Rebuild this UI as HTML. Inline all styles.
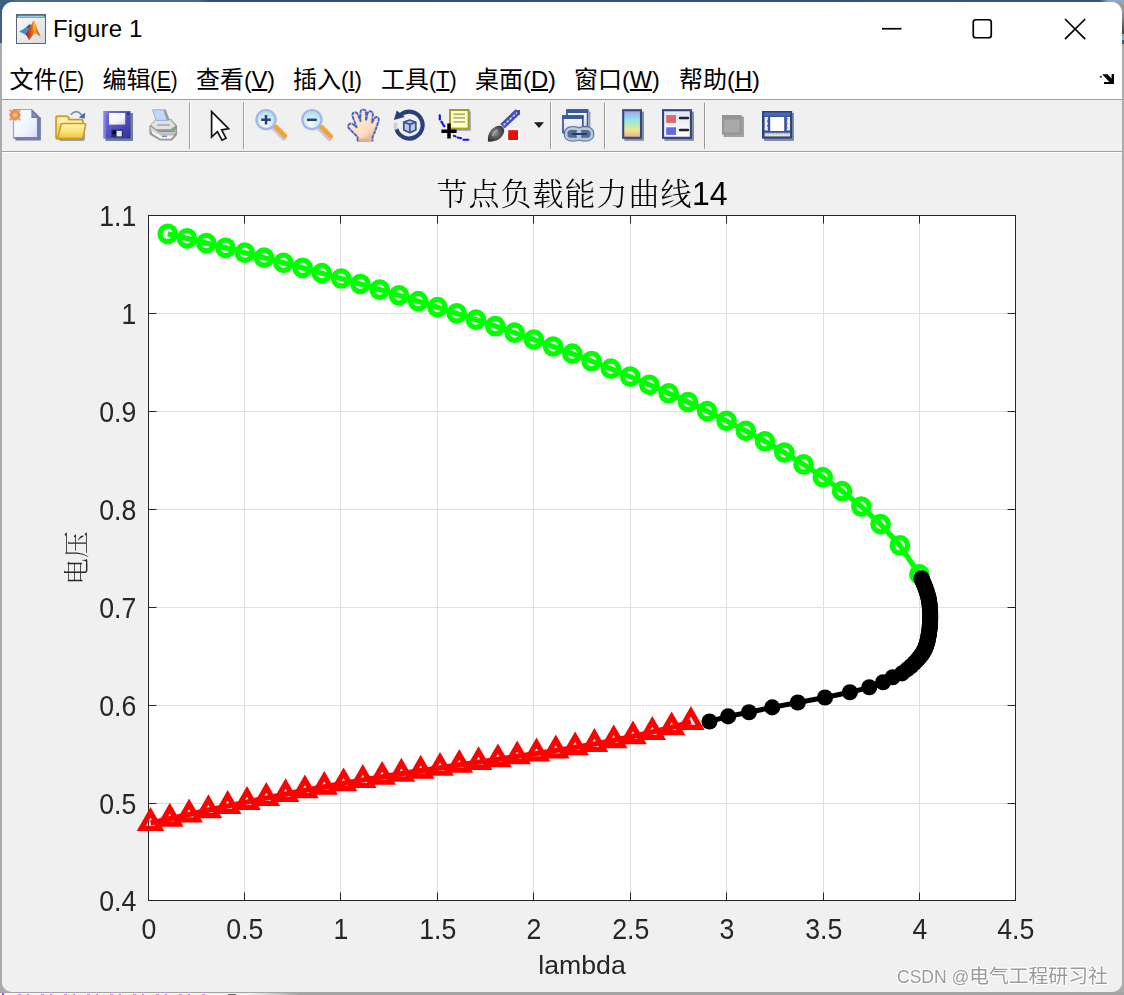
<!DOCTYPE html>
<html lang="zh-CN">
<head>
<meta charset="utf-8">
<title>Figure 1</title>
<style>
html,body{margin:0;padding:0;}
body{width:1124px;height:995px;overflow:hidden;position:relative;background:#ababab;font-family:"Liberation Sans","Noto Sans CJK SC",sans-serif;}
.bg{position:absolute;}
#win{position:absolute;left:2px;top:2px;width:1120px;height:990px;background:#f0f0f0;border-radius:11px 11px 10px 10px;overflow:hidden;}
#titlebar{position:absolute;left:0;top:0;width:1120px;height:56px;background:#fff;}
#title{position:absolute;left:51px;top:11px;font-size:24px;line-height:32px;color:#000;letter-spacing:0.2px;}
#menubar{position:absolute;left:0;top:56px;width:1120px;height:41px;background:#fff;border-bottom:1px solid #a0a0a0;}
.mi{position:absolute;top:3.5px;font-size:24px;line-height:36px;color:#000;white-space:nowrap;}
.mi .l{display:inline-block;font-style:normal;transform:scaleX(0.86);transform-origin:0 50%;}
.mi u{text-decoration:underline;text-underline-offset:1.2px;text-decoration-thickness:1.5px;}
#toolbar{position:absolute;left:0;top:98px;width:1120px;height:51px;background:#f0f0f0;border-bottom:1px solid #a0a0a0;}
.sep{position:absolute;top:3px;width:1px;height:46px;background:#a0a0a0;border-right:1px solid #fff;}
.ic{position:absolute;top:9px;width:32px;height:32px;}
#fig{position:absolute;left:0;top:150px;width:1120px;height:840px;background:#f0f0f0;border-top:1px solid #fff;}
.plot{position:absolute;left:0;top:0;will-change:transform;}
#wm{will-change:transform;position:absolute;left:897px;top:963px;font-size:19.8px;line-height:26px;color:#9a9a9a;white-space:nowrap;text-shadow:1px 1px 0 #fff,-1px -1px 0 #fff,1px -1px 0 #fff,-1px 1px 0 #fff;}
</style>
</head>
<body>
<div class="bg" style="left:0;top:0;width:1124px;height:3px;background:linear-gradient(90deg,#4b6b92 0,#46668e 200px,#2f4f7a 210px,#34547e 1100px,#8aa8cc 1108px);"></div>
<div class="bg" style="left:0;top:0;width:14px;height:43px;background:#3d5f87;"></div>
<div class="bg" style="left:1110px;top:0;width:14px;height:3px;background:#8aa8cc;"></div>
<div class="bg" style="left:1112px;top:2px;width:12px;height:32px;background:linear-gradient(180deg,#a0a0a0,#8c8c8c 40%,#3e3e3e);"></div>
<div class="bg" style="left:1112px;top:34px;width:12px;height:6px;background:#86a2c6;"></div>
<div class="bg" style="left:1112px;top:40px;width:12px;height:4px;background:#2f5a8c;"></div>
<div class="bg" style="left:0;top:992px;width:1124px;height:3px;background:#a4a4a4;"></div>
<div class="bg" style="left:0;top:993px;width:300px;height:2px;background:linear-gradient(90deg,#f6f6f6 0,#f2f2f2 250px,#a4a4a4 300px);"></div>
<div class="bg" style="left:2px;top:993px;width:2px;height:2px;background:#a050d8;"></div>
<div class="bg" style="left:18px;top:994px;width:190px;height:1px;background:repeating-linear-gradient(90deg,#c49ae6 0,#c49ae6 3px,rgba(0,0,0,0) 3px,rgba(0,0,0,0) 9px,#b98ae0 9px,#b98ae0 11px,rgba(0,0,0,0) 11px,rgba(0,0,0,0) 23px);"></div>
<div class="bg" style="left:228px;top:994px;width:8px;height:1px;background:#666;"></div>

<div id="win">
  <div id="titlebar">
    <!--APPICON-->
    <div id="title">Figure 1</div>
    <!--CAPTION-->
  </div>
  <div id="menubar">
    <span class="mi" style="left:7.5px">文件<i class="l" style="transform:scaleX(0.85)">(<u>F</u>)</i></span>
    <span class="mi" style="left:100.4px">编辑<i class="l" style="transform:scaleX(0.86)">(<u>E</u>)</i></span>
    <span class="mi" style="left:194px">查看<i class="l" style="transform:scaleX(0.97)">(<u>V</u>)</i></span>
    <span class="mi" style="left:291px">插入<i class="l" style="transform:scaleX(0.925)">(<u>I</u>)</i></span>
    <span class="mi" style="left:379px">工具<i class="l" style="transform:scaleX(0.9)">(<u>T</u>)</i></span>
    <span class="mi" style="left:473px">桌面<i class="l" style="transform:scaleX(0.99)">(<u>D</u>)</i></span>
    <span class="mi" style="left:572px">窗口<i class="l" style="transform:scaleX(0.98)">(<u>W</u>)</i></span>
    <span class="mi" style="left:677px">帮助<i class="l" style="transform:scaleX(0.99)">(<u>H</u>)</i></span>
    <!--DOCK-->
  </div>
  <div id="toolbar">
    <!--ICONS-->
  </div>
  <div id="fig"></div>
</div>
<svg class="plot" width="1124" height="995" viewBox="0 0 1124 995">
<rect x="148.5" y="215.5" width="867.0" height="685.0" fill="#fff"/>
<path d="M244.5 215.5V900.5M340.5 215.5V900.5M437.5 215.5V900.5M533.5 215.5V900.5M630.5 215.5V900.5M726.5 215.5V900.5M823.5 215.5V900.5M919.5 215.5V900.5M148.5 803.5H1015.5M148.5 705.5H1015.5M148.5 607.5H1015.5M148.5 509.5H1015.5M148.5 411.5H1015.5M148.5 313.5H1015.5" stroke="#dfdfdf" stroke-width="1" fill="none"/>
<path d="M148.5 900.5v-8M148.5 215.5v8M244.5 900.5v-8M244.5 215.5v8M340.5 900.5v-8M340.5 215.5v8M437.5 900.5v-8M437.5 215.5v8M533.5 900.5v-8M533.5 215.5v8M630.5 900.5v-8M630.5 215.5v8M726.5 900.5v-8M726.5 215.5v8M823.5 900.5v-8M823.5 215.5v8M919.5 900.5v-8M919.5 215.5v8M1015.5 900.5v-8M1015.5 215.5v8M148.5 900.5h8M1015.5 900.5h-8M148.5 803.5h8M1015.5 803.5h-8M148.5 705.5h8M1015.5 705.5h-8M148.5 607.5h8M1015.5 607.5h-8M148.5 509.5h8M1015.5 509.5h-8M148.5 411.5h8M1015.5 411.5h-8M148.5 313.5h8M1015.5 313.5h-8M148.5 215.5h8M1015.5 215.5h-8" stroke="#262626" stroke-width="1" fill="none"/>
<rect x="148.5" y="215.5" width="867.0" height="685.0" fill="none" stroke="#262626" stroke-width="1"/>
<polyline points="167.8,233.9 187,238.4 206.3,243.1 225.6,247.9 244.8,252.7 264.1,257.7 283.4,262.8 302.6,267.9 321.9,273.2 341.2,278.5 360.4,284 379.7,289.6 399,295.4 418.2,301.2 437.5,307.2 456.8,313.4 476,319.7 495.3,326.1 514.6,332.7 533.8,339.5 553.1,346.5 572.4,353.7 591.6,361.1 610.9,368.7 630.2,376.6 649.4,384.8 668.7,393.3 688,402 707.2,411.2 726.5,420.8 745.8,430.8 765,441.3 784.3,452.5 803.6,464.4 822.8,477.2 842.1,491.2 861.4,506.6 880.6,524.2 899.9,545.4 919.4,574.4" fill="none" stroke="#00ff00" stroke-width="5.3" stroke-linejoin="round"/>
<g fill="none" stroke="#00ff00" stroke-width="5.3"><circle cx="167.8" cy="233.9" r="7.7"/><circle cx="187" cy="238.4" r="7.7"/><circle cx="206.3" cy="243.1" r="7.7"/><circle cx="225.6" cy="247.9" r="7.7"/><circle cx="244.8" cy="252.7" r="7.7"/><circle cx="264.1" cy="257.7" r="7.7"/><circle cx="283.4" cy="262.8" r="7.7"/><circle cx="302.6" cy="267.9" r="7.7"/><circle cx="321.9" cy="273.2" r="7.7"/><circle cx="341.2" cy="278.5" r="7.7"/><circle cx="360.4" cy="284" r="7.7"/><circle cx="379.7" cy="289.6" r="7.7"/><circle cx="399" cy="295.4" r="7.7"/><circle cx="418.2" cy="301.2" r="7.7"/><circle cx="437.5" cy="307.2" r="7.7"/><circle cx="456.8" cy="313.4" r="7.7"/><circle cx="476" cy="319.7" r="7.7"/><circle cx="495.3" cy="326.1" r="7.7"/><circle cx="514.6" cy="332.7" r="7.7"/><circle cx="533.8" cy="339.5" r="7.7"/><circle cx="553.1" cy="346.5" r="7.7"/><circle cx="572.4" cy="353.7" r="7.7"/><circle cx="591.6" cy="361.1" r="7.7"/><circle cx="610.9" cy="368.7" r="7.7"/><circle cx="630.2" cy="376.6" r="7.7"/><circle cx="649.4" cy="384.8" r="7.7"/><circle cx="668.7" cy="393.3" r="7.7"/><circle cx="688" cy="402" r="7.7"/><circle cx="707.2" cy="411.2" r="7.7"/><circle cx="726.5" cy="420.8" r="7.7"/><circle cx="745.8" cy="430.8" r="7.7"/><circle cx="765" cy="441.3" r="7.7"/><circle cx="784.3" cy="452.5" r="7.7"/><circle cx="803.6" cy="464.4" r="7.7"/><circle cx="822.8" cy="477.2" r="7.7"/><circle cx="842.1" cy="491.2" r="7.7"/><circle cx="861.4" cy="506.6" r="7.7"/><circle cx="880.6" cy="524.2" r="7.7"/><circle cx="899.9" cy="545.4" r="7.7"/><circle cx="919.4" cy="574.4" r="7.7"/></g>
<polyline points="150.5,823 169.8,818.7 189.1,814.5 208.4,810.2 227.7,806 247,802 266.3,798 285.6,794.1 304.9,790.4 324.2,786.8 343.5,783.3 362.8,780 382.1,776.8 401.4,773.7 420.7,770.7 440,767.8 459.3,764.9 478.6,762.1 497.9,759.3 517.2,756.4 536.5,753.5 555.8,750.5 575.1,747.3 594.4,744 613.7,740.3 633,736.4 652.3,732 671.6,727.3 690.9,722" fill="none" stroke="#ff0000" stroke-width="5.3" stroke-linejoin="round"/>
<path d="M150.5 812.4L159.7 828.3L141.3 828.3ZM169.8 808.1L179 824L160.6 824ZM189.1 803.9L198.3 819.8L179.9 819.8ZM208.4 799.6L217.6 815.5L199.2 815.5ZM227.7 795.4L236.9 811.3L218.5 811.3ZM247 791.4L256.2 807.3L237.8 807.3ZM266.3 787.4L275.5 803.3L257.1 803.3ZM285.6 783.5L294.8 799.4L276.4 799.4ZM304.9 779.8L314.1 795.7L295.7 795.7ZM324.2 776.2L333.4 792.1L315 792.1ZM343.5 772.7L352.7 788.6L334.3 788.6ZM362.8 769.4L372 785.3L353.6 785.3ZM382.1 766.2L391.3 782.1L372.9 782.1ZM401.4 763.1L410.6 779L392.2 779ZM420.7 760.1L429.9 776L411.5 776ZM440 757.2L449.2 773.1L430.8 773.1ZM459.3 754.3L468.5 770.2L450.1 770.2ZM478.6 751.5L487.8 767.4L469.4 767.4ZM497.9 748.7L507.1 764.6L488.7 764.6ZM517.2 745.8L526.4 761.7L508 761.7ZM536.5 742.9L545.7 758.8L527.3 758.8ZM555.8 739.9L565 755.8L546.6 755.8ZM575.1 736.7L584.3 752.6L565.9 752.6ZM594.4 733.4L603.6 749.3L585.2 749.3ZM613.7 729.7L622.9 745.6L604.5 745.6ZM633 725.8L642.2 741.7L623.8 741.7ZM652.3 721.4L661.5 737.3L643.1 737.3ZM671.6 716.7L680.8 732.6L662.4 732.6ZM690.9 711.4L700.1 727.3L681.7 727.3Z" fill="none" stroke="#ff0000" stroke-width="5.3" stroke-linejoin="miter" stroke-miterlimit="10"/>
<polyline points="921.5,578.3 921.8,579.1 922.4,580.5 923.1,582 923.7,583.4 924.2,584.8 924.8,586.3 925.3,587.6 925.8,589.1 926.4,590.6 926.9,592.1 927.3,593.6 927.8,595.1 928.2,596.6 928.5,598 928.8,599.4 929,600.8 929.3,602.4 929.5,603.9 929.6,605.5 929.8,607.1 929.9,608.7 930,610.3 930.1,611.9 930.2,613.5 930.2,615.1 930.2,616.5 930.2,618 930.2,619.4 930.1,620.9 930.1,622.4 930,623.9 929.9,625.4 929.7,626.8 929.6,628.4 929.4,629.9 929.2,631.4 929,632.9 928.8,634.4 928.5,635.8 928.3,637.3 928,638.9 927.7,640.4 927.3,641.8 927,643.2 926.5,644.6 926.1,646 925.6,647.3 925,648.6 924.4,649.9 923.7,651.2 923,652.5 922.1,653.8 921.2,655.1 920.1,656.5 918.7,658.2 916.8,660.4 914.5,662.9 911.3,666 907.2,669.4 902,673.4 892.7,677.3 883.1,682.3 869.3,687.3 849.9,692.3 825,697.5 797.8,702.5 772.2,707.4 749,712.2 728.1,716.4 709.5,721.5" fill="none" stroke="#000" stroke-width="5" stroke-linejoin="round" stroke-linecap="round"/>
<g fill="#000"><circle cx="921.5" cy="578.3" r="8.05"/><circle cx="921.8" cy="579.1" r="8.05"/><circle cx="922.4" cy="580.5" r="8.05"/><circle cx="923.1" cy="582" r="8.05"/><circle cx="923.7" cy="583.4" r="8.05"/><circle cx="924.2" cy="584.8" r="8.05"/><circle cx="924.8" cy="586.3" r="8.05"/><circle cx="925.3" cy="587.6" r="8.05"/><circle cx="925.8" cy="589.1" r="8.05"/><circle cx="926.4" cy="590.6" r="8.05"/><circle cx="926.9" cy="592.1" r="8.05"/><circle cx="927.3" cy="593.6" r="8.05"/><circle cx="927.8" cy="595.1" r="8.05"/><circle cx="928.2" cy="596.6" r="8.05"/><circle cx="928.5" cy="598" r="8.05"/><circle cx="928.8" cy="599.4" r="8.05"/><circle cx="929" cy="600.8" r="8.05"/><circle cx="929.3" cy="602.4" r="8.05"/><circle cx="929.5" cy="603.9" r="8.05"/><circle cx="929.6" cy="605.5" r="8.05"/><circle cx="929.8" cy="607.1" r="8.05"/><circle cx="929.9" cy="608.7" r="8.05"/><circle cx="930" cy="610.3" r="8.05"/><circle cx="930.1" cy="611.9" r="8.05"/><circle cx="930.2" cy="613.5" r="8.05"/><circle cx="930.2" cy="615.1" r="8.05"/><circle cx="930.2" cy="616.5" r="8.05"/><circle cx="930.2" cy="618" r="8.05"/><circle cx="930.2" cy="619.4" r="8.05"/><circle cx="930.1" cy="620.9" r="8.05"/><circle cx="930.1" cy="622.4" r="8.05"/><circle cx="930" cy="623.9" r="8.05"/><circle cx="929.9" cy="625.4" r="8.05"/><circle cx="929.7" cy="626.8" r="8.05"/><circle cx="929.6" cy="628.4" r="8.05"/><circle cx="929.4" cy="629.9" r="8.05"/><circle cx="929.2" cy="631.4" r="8.05"/><circle cx="929" cy="632.9" r="8.05"/><circle cx="928.8" cy="634.4" r="8.05"/><circle cx="928.5" cy="635.8" r="8.05"/><circle cx="928.3" cy="637.3" r="8.05"/><circle cx="928" cy="638.9" r="8.05"/><circle cx="927.7" cy="640.4" r="8.05"/><circle cx="927.3" cy="641.8" r="8.05"/><circle cx="927" cy="643.2" r="8.05"/><circle cx="926.5" cy="644.6" r="8.05"/><circle cx="926.1" cy="646" r="8.05"/><circle cx="925.6" cy="647.3" r="8.05"/><circle cx="925" cy="648.6" r="8.05"/><circle cx="924.4" cy="649.9" r="8.05"/><circle cx="923.7" cy="651.2" r="8.05"/><circle cx="923" cy="652.5" r="8.05"/><circle cx="922.1" cy="653.8" r="8.05"/><circle cx="921.2" cy="655.1" r="8.05"/><circle cx="920.1" cy="656.5" r="8.05"/><circle cx="918.7" cy="658.2" r="8.05"/><circle cx="916.8" cy="660.4" r="8.05"/><circle cx="914.5" cy="662.9" r="8.05"/><circle cx="911.3" cy="666" r="8.05"/><circle cx="907.2" cy="669.4" r="8.05"/><circle cx="902" cy="673.4" r="8.05"/><circle cx="892.7" cy="677.3" r="8.05"/><circle cx="883.1" cy="682.3" r="8.05"/><circle cx="869.3" cy="687.3" r="8.05"/><circle cx="849.9" cy="692.3" r="8.05"/><circle cx="825" cy="697.5" r="8.05"/><circle cx="797.8" cy="702.5" r="8.05"/><circle cx="772.2" cy="707.4" r="8.05"/><circle cx="749" cy="712.2" r="8.05"/><circle cx="728.1" cy="716.4" r="8.05"/><circle cx="709.5" cy="721.5" r="8.05"/></g>
<g font-family="'Liberation Sans', Arial, sans-serif" font-size="26.67" fill="#262626">
<text transform="translate(148.8 938.9) scale(1 1.08)" text-anchor="middle">0</text>
<text transform="translate(244.8 938.9) scale(1 1.08)" text-anchor="middle">0.5</text>
<text transform="translate(340.8 938.9) scale(1 1.08)" text-anchor="middle">1</text>
<text transform="translate(437.8 938.9) scale(1 1.08)" text-anchor="middle">1.5</text>
<text transform="translate(533.8 938.9) scale(1 1.08)" text-anchor="middle">2</text>
<text transform="translate(630.8 938.9) scale(1 1.08)" text-anchor="middle">2.5</text>
<text transform="translate(726.8 938.9) scale(1 1.08)" text-anchor="middle">3</text>
<text transform="translate(823.8 938.9) scale(1 1.08)" text-anchor="middle">3.5</text>
<text transform="translate(919.8 938.9) scale(1 1.08)" text-anchor="middle">4</text>
<text transform="translate(1015.8 938.9) scale(1 1.08)" text-anchor="middle">4.5</text>
<text transform="translate(136.3 911.2) scale(1 1.08)" text-anchor="end">0.4</text>
<text transform="translate(136.3 814.2) scale(1 1.08)" text-anchor="end">0.5</text>
<text transform="translate(136.3 716.2) scale(1 1.08)" text-anchor="end">0.6</text>
<text transform="translate(136.3 618.2) scale(1 1.08)" text-anchor="end">0.7</text>
<text transform="translate(136.3 520.2) scale(1 1.08)" text-anchor="end">0.8</text>
<text transform="translate(136.3 422.2) scale(1 1.08)" text-anchor="end">0.9</text>
<text transform="translate(136.3 324.2) scale(1 1.08)" text-anchor="end">1</text>
<text transform="translate(136.3 226.2) scale(1 1.08)" text-anchor="end">1.1</text>
<text x="582" y="974.1" text-anchor="middle">lambda</text>
</g>
<text transform="translate(85.5 558) rotate(-90)" text-anchor="middle" font-family="'Liberation Serif', 'Noto Serif CJK SC', serif" font-weight="300" font-size="26.67" fill="#262626">电压</text>
<text x="436.4" y="205.4" font-size="31" fill="#000" font-family="'Liberation Serif', 'Noto Serif CJK SC', serif" font-weight="300" letter-spacing="1">节点负载能力曲线</text>
<text transform="translate(692 205.4) scale(1 1.06)" font-size="32" fill="#000" font-family="'Liberation Sans', sans-serif">14</text>
</svg>
<svg class="plot" width="1124" height="160" viewBox="0 0 1124 160">
<defs>
<linearGradient id="gPage" x1="0" y1="0" x2="1" y2="1"><stop offset="0" stop-color="#ffffff"/><stop offset="0.6" stop-color="#eef4ff"/><stop offset="1" stop-color="#cfe0fb"/></linearGradient>
<linearGradient id="gFold" x1="0" y1="0" x2="0" y2="1"><stop offset="0" stop-color="#fff6b0"/><stop offset="0.5" stop-color="#fbe37a"/><stop offset="1" stop-color="#f0c040"/></linearGradient>
<linearGradient id="gSave" x1="0" y1="0" x2="1" y2="1"><stop offset="0" stop-color="#7a78e8"/><stop offset="0.5" stop-color="#5552c4"/><stop offset="1" stop-color="#2f2f98"/></linearGradient>
<linearGradient id="gLabel" x1="0" y1="0" x2="1" y2="1"><stop offset="0" stop-color="#ffffff"/><stop offset="0.6" stop-color="#f4f6fb"/><stop offset="1" stop-color="#c8d2ea"/></linearGradient>
<radialGradient id="gLens" cx="0.45" cy="0.7" r="0.7"><stop offset="0" stop-color="#ffffff"/><stop offset="0.55" stop-color="#c4ecf2"/><stop offset="1" stop-color="#a8dcea"/></radialGradient>
<linearGradient id="gHand" x1="0.3" y1="0.3" x2="0.8" y2="1"><stop offset="0" stop-color="#fee6cf"/><stop offset="0.6" stop-color="#fbdcc0"/><stop offset="1" stop-color="#dca878"/></linearGradient>
<linearGradient id="gCbar" x1="0" y1="0" x2="0" y2="1"><stop offset="0" stop-color="#a59cee"/><stop offset="0.35" stop-color="#8fe6ea"/><stop offset="0.7" stop-color="#e6ea90"/><stop offset="1" stop-color="#f4a98c"/></linearGradient>
<linearGradient id="gLeg" x1="0" y1="0" x2="0" y2="1"><stop offset="0" stop-color="#dfe5f4"/><stop offset="1" stop-color="#ffffff"/></linearGradient>
<linearGradient id="gWinT" x1="0" y1="0" x2="0" y2="1"><stop offset="0" stop-color="#ffffff"/><stop offset="1" stop-color="#d4dcf0"/></linearGradient>
<radialGradient id="gBrush" cx="0.45" cy="0.45" r="0.6"><stop offset="0" stop-color="#9a9a9a"/><stop offset="0.5" stop-color="#5a5a5a"/><stop offset="1" stop-color="#2e2e2e"/></radialGradient>
<linearGradient id="gPrn" x1="0" y1="0" x2="0" y2="1"><stop offset="0" stop-color="#e4e4e4"/><stop offset="1" stop-color="#b4b4b0"/></linearGradient>
<linearGradient id="gApp" x1="0" y1="0" x2="1" y2="1"><stop offset="0" stop-color="#fbfbfb"/><stop offset="1" stop-color="#d9dadc"/></linearGradient>
<linearGradient id="gMl" x1="0" y1="0" x2="1" y2="0"><stop offset="0" stop-color="#8a1c10"/><stop offset="0.45" stop-color="#e8641a"/><stop offset="0.6" stop-color="#f8a81c"/><stop offset="1" stop-color="#c23a12"/></linearGradient>
</defs>

<!-- ===== app icon ===== -->
<g>
<rect x="16.5" y="14.5" width="29" height="29" fill="url(#gApp)" stroke="#5b6577" stroke-width="1"/>
<rect x="17" y="15" width="28" height="2.6" fill="#3d5a86"/>
<rect x="17.6" y="15.6" width="26.8" height="1.6" fill="#9ccbee"/>
<path d="M19.2 31.6 L26 27.6 L29.6 24.2 L32 26 L27.8 31.2 L25.2 34.6 Z" fill="#3f8fd0"/>
<path d="M26 27.6 L29.6 24.2 L31 25.2 L28.5 28.6 Z" fill="#2f5f98"/>
<path d="M25.2 34.6 C28 30.5 30.5 26.5 32.6 22 C33.4 20.4 34.2 20.4 34.9 22.2 C36.6 27 38.6 32.8 40.8 36.8 C38 34.8 36.6 33.4 35.2 33.6 C33 34 31.2 38.2 29 40.2 C28.2 38 26.8 35.8 25.2 34.6 Z" fill="url(#gMl)"/>
<path d="M33.4 21.4 C33.9 20.6 34.4 20.8 34.9 22.2 C35.5 25 35.2 28.5 34 31 C33.4 28 33.2 24.5 33.4 21.4 Z" fill="#fbc02a" opacity="0.85"/>
</g>

<!-- ===== caption buttons ===== -->
<g fill="none" stroke="#000" stroke-width="1.7">
<path d="M882 28.75H901.5"/>
<rect x="973.25" y="19.75" width="18" height="18" rx="2.5"/>
<path d="M1065.5 19.5L1084.7 38.7M1084.7 19.5L1065.5 38.7" stroke-linecap="round"/>
</g>

<!-- ===== dock arrow ===== -->
<g fill="#000">
<path d="M1102.2 74.2 L1107.6 74.2 L1111.6 78.4 L1111.6 74 L1114 74 L1114 84 L1104 84 L1104 82 L1109.4 82 Z"/>
<circle cx="1100.8" cy="76.8" r="1.1" fill="#333"/>
</g>

<!-- ===== 1 new ===== -->
<g>
<path d="M15.4 137.4 H37.4 V117.4 L40.9 117.6 V140.6 H15.4 Z" fill="#6f8199"/>
<path d="M13.5 109.5 H31.6 L37.6 115.4 V137.8 H13.5 Z" fill="url(#gPage)" stroke="#8ea6dc" stroke-width="1.2"/>
<path d="M37.8 116.6 V137.9 H14.4" fill="none" stroke="#7b7aac" stroke-width="1.7"/>
<path d="M31.4 109 L40.8 118 H31.4 Z" fill="#7679b2"/>
<path d="M32.6 112.6 V116.4 H36.4 Z" fill="#6f96d8"/>
<g stroke="#e8744a" stroke-width="1.8" stroke-linecap="butt" opacity="0.8"><path d="M9.8 109.8L11.4 111.4M20.2 109.8L18.6 111.4M9.8 120.2L11.4 118.6M20.2 120.2L18.6 118.6"/><path d="M15 109V121M9 115H21" opacity="0.35"/></g>
<circle cx="15" cy="115" r="5.1" fill="#ec8c62"/><circle cx="15" cy="115" r="5.1" fill="none" stroke="#e87e52" stroke-width="1" opacity="0.6"/>
<rect x="13.2" y="113.2" width="3.6" height="3.6" fill="#f4d04a"/>
</g>

<!-- ===== 2 open ===== -->
<g>
<path d="M59 137 H84 L85 126 V139 Q85 141 83 141 H60 Z" fill="#7d8ea0" opacity="0.8"/>
<path d="M56 137 V118 Q56 116 58 116 H66.5 Q68 116 68.6 117.4 L69.4 119.6 H81 Q83 119.6 83 121.6 V137 Q83 139 81 139 H58 Q56 139 56 137 Z" fill="#f6dc74" stroke="#c79a1c" stroke-width="1.6"/>
<path d="M57.6 118 H66.6 L67.8 120.8 H81.6 V123 H57.6 Z" fill="#fff3b4"/>
<path d="M57.5 138.3 L61 124.8 Q61.4 123.6 62.8 123.6 H84.4 Q85.8 123.6 85.5 125 L83.2 137 Q82.9 138.6 81.2 138.6 H58.4 Z" fill="url(#gFold)" stroke="#c79a1c" stroke-width="1.5"/>
<path d="M71.4 114.2 Q76.5 108.8 81.6 114.8" fill="none" stroke="#7d90b4" stroke-width="1.9" stroke-linecap="round"/>
<path d="M85.2 112.6 L84.6 118.8 L78.8 117.4 Z" fill="#4467a8"/>
</g>

<!-- ===== 3 save ===== -->
<g>
<rect x="105.5" y="113" width="27.5" height="28" fill="#6f8199"/>
<rect x="103.5" y="111" width="27" height="27.5" fill="url(#gSave)"/>
<rect x="103.5" y="111" width="2.2" height="27.5" fill="#8e8cf0" opacity="0.8"/>
<rect x="109" y="113" width="16.2" height="11.6" fill="url(#gLabel)"/>
<rect x="111.4" y="129.6" width="11.4" height="7.4" fill="#26285c"/>
<rect x="116.6" y="130.8" width="5.2" height="5.6" fill="#e4e8f6"/>
<rect x="112.6" y="130.6" width="3.2" height="3.4" fill="#0b0b16"/>
<rect x="127.2" y="112.2" width="2.2" height="3" fill="#2e2e86"/>
</g>

<!-- ===== 4 print ===== -->
<g>
<path d="M153 124 L156 119 H171 L177 125.5 V135 L172 140.5 H160 L149.5 134.5 V126 Z" fill="#8f8f8a" opacity="0.9"/>
<path d="M150.5 125 L155.5 119.5 H170.5 L175.5 125.5 L172 129.5 H156 Z" fill="#e2e2e0" stroke="#a0a09c" stroke-width="0.8"/>
<path d="M150 126 L158.5 131.5 H174 L176 126.5 V133.5 L172.5 137 H159 L150 131.5 Z" fill="url(#gPrn)" stroke="#8a8a84" stroke-width="0.8"/>
<path d="M152 133.5 L160.5 138.8 H171 L173.8 135.6 H161 L152 130.6 Z" fill="#f4f4f2"/>
<path d="M156 120.4 L152.6 109.8 H163.6 L167.2 120.4 Z" fill="#bcd9f6" stroke="#8fa6d8" stroke-width="0.9"/>
<path d="M163.8 109.6 H165.8 L169.8 120.4 H167.2 Z" fill="#9a9a98"/>
<path d="M157 125 H170" stroke="#a8a8a4" stroke-width="1.6"/>
<rect x="171.4" y="127.6" width="1.8" height="2.6" fill="#58c848"/>
<rect x="162" y="135.6" width="5" height="1.4" fill="#8088d0"/>
</g>

<!-- separators -->
<g>
<path d="M189.5 102.5V149M243.5 102.5V149M550.5 102.5V149M604.5 102.5V149M704.5 102.5V149" stroke="#9c9c9c" stroke-width="1"/>
<path d="M190.5 102.5V149M244.5 102.5V149M551.5 102.5V149M605.5 102.5V149M705.5 102.5V149" stroke="#ffffff" stroke-width="1"/>
</g>

<!-- ===== 5 pointer ===== -->
<path d="M211.6 111.6 V137 L217.4 131.6 L222 140.2 L226 138.2 L221.6 129.8 L228.6 128.6 Z" fill="#fff" stroke="#141414" stroke-width="1.7" stroke-linejoin="miter"/>

<!-- ===== 6 zoom in ===== -->
<g>
<path d="M273.2 127.6 L283.6 138" stroke="#b8b0e0" stroke-width="5" stroke-linecap="round" opacity="0.7"/>
<path d="M275.6 126.6 L284.8 135.8" stroke="#f0a233" stroke-width="4.6" stroke-linecap="round"/>
<path d="M278 126 L287 135" stroke="#f7c06a" stroke-width="1.4" stroke-dasharray="1.6 1.6"/>
<circle cx="266" cy="119.6" r="9.6" fill="url(#gLens)" stroke="#a9b2ea" stroke-width="2.2"/>
<path d="M261.2 119.8H270.8M266 115V124.6" stroke="#2b3e7c" stroke-width="2.5"/>
</g>

<!-- ===== 7 zoom out ===== -->
<g>
<path d="M319.2 128.2 L329.6 138.6" stroke="#b8b0e0" stroke-width="5" stroke-linecap="round" opacity="0.7"/>
<path d="M321.6 127.2 L330.8 136.4" stroke="#f0a233" stroke-width="4.6" stroke-linecap="round"/>
<path d="M324 126.6 L333 135.6" stroke="#f7c06a" stroke-width="1.4" stroke-dasharray="1.6 1.6"/>
<circle cx="311.9" cy="119.6" r="9.6" fill="url(#gLens)" stroke="#a9b2ea" stroke-width="2.2"/>
<path d="M307 119.8H316.8" stroke="#2b3e7c" stroke-width="2.5"/>
</g>

<!-- ===== 8 hand ===== -->
<g>
<path d="M357.6 140.5 V137 L349 128.4 Q347 125.8 349.4 124 Q351.4 122.8 353.4 124.6 L356.6 127.2 L352.6 116.4 Q351.8 113.2 354.4 112.4 Q357 111.8 358 114.8 L360.4 121 V112.6 Q360.4 109.6 363.2 109.6 Q366 109.6 366 112.6 V120.6 L367.6 113.4 Q368.4 110.8 370.8 111.4 Q373.2 112.2 372.8 115 L372 122.6 L374.4 118.6 Q375.8 116.4 377.6 117.4 Q379.4 118.6 378.6 121 L375 131.4 L372.6 137 V140.5 Z" fill="url(#gHand)" stroke="#4464c4" stroke-width="1.9" stroke-linejoin="round" stroke-dasharray="4 0.6"/>
<rect x="358.5" y="138.6" width="13.2" height="2.8" fill="#e3b48a"/>
</g>

<!-- ===== 9 rotate ===== -->
<g transform="translate(0.2 1.4)">
<path d="M400.2 113.6 A13.4 13.4 0 1 1 396.2 127.6" fill="none" stroke="#2a407e" stroke-width="4.2"/>
<path d="M393.6 118.6 L396.6 109.2 L404.6 115.6 Z" fill="#2a407e"/>
<path d="M396 121.5 Q394.4 124.5 395.8 128.2" stroke="#c8c8c4" stroke-width="3.6" fill="none" opacity="0.8"/>
<path d="M403.6 120.6 L409.6 118.6 L415.6 120.8 V128.6 L409.6 131.4 L403.6 128.6 Z" fill="#b8c8ec" stroke="#3a5090" stroke-width="1.7" stroke-linejoin="round"/>
<path d="M403.6 120.8 L409.6 123 L415.6 120.8 M409.6 123 V131.2" stroke="#3a5090" stroke-width="1.7" fill="none"/>
</g>

<!-- ===== 10 data cursor ===== -->
<g>
<rect x="451.4" y="111.4" width="19.4" height="19.4" fill="#8a94a0" opacity="0.8"/>
<rect x="450" y="110" width="18.6" height="18.6" fill="#ffffc4" stroke="#a39c34" stroke-width="2"/>
<path d="M453.4 114.2H465M453.4 117.9H465M453.4 121.9H465" stroke="#b4b488" stroke-width="1.9"/>
<path d="M439.8 115.4 V119.4 M441.4 121.6 L442.6 123.6 M443.4 125 L444.4 126.2" stroke="#1010ff" stroke-width="2.2" stroke-linecap="round"/>
<path d="M453.8 135.8 L455.6 136.4 M457.6 137.6 L461.2 138.2 M463.4 139.8 H468.4" stroke="#1010ff" stroke-width="2" stroke-linecap="round"/>
<path d="M441.4 131.2H456.6M449 123.6V138.6" stroke="#000" stroke-width="3.5"/>
</g>

<!-- ===== 11 brush ===== -->
<g>
<path d="M502.4 126.2 L517.8 111.6" stroke="#4553b4" stroke-width="6.4" stroke-linecap="butt"/>
<path d="M515.2 110.2 L520 110 L519.8 115.2 Z" fill="#3a48a8"/>
<path d="M503.6 125.2 L517 112.6" stroke="#e8ecff" stroke-width="1.2" stroke-dasharray="2.6 1.6"/>
<path d="M488 141.6 Q487 134.6 491.6 129.6 Q496.6 124.6 501 126 Q504.4 127.6 504.2 131.6 Q503 137.4 496.6 140.6 Q492 142.2 488 141.6 Z" fill="url(#gBrush)"/>
<path d="M492.6 136 Q494 131.6 497.6 130" stroke="#b4b4b4" stroke-width="1.5" fill="none" opacity="0.7"/>
<rect x="506" y="128" width="14.2" height="14" fill="#fff"/>
<rect x="508.2" y="130.2" width="9.8" height="9.8" fill="#f00a0a"/>
</g>
<path d="M534 122.2 H544 L539 128 Z" fill="#1c1c1c"/>

<!-- ===== 12 link ===== -->
<g>
<rect x="567" y="110" width="20.6" height="16.8" fill="url(#gWinT)" stroke="#3854a0" stroke-width="1.7"/>
<rect x="566.4" y="109.4" width="21.8" height="3.6" fill="#3a58a8"/>
<rect x="589" y="111.6" width="1.4" height="16" fill="#6a7890" opacity="0.7"/>
<rect x="563" y="116" width="19.8" height="16.6" fill="url(#gWinT)" stroke="#3854a0" stroke-width="1.7"/>
<rect x="562.2" y="115.2" width="21.4" height="3.8" fill="#3a58a8"/>
<g fill="none">
<rect x="568" y="130.6" width="22" height="6.6" rx="3" fill="#5a6c8c"/>
<rect x="566" y="128.6" width="14.4" height="10.6" rx="5.3" stroke="#56688c" stroke-width="4.8"/>
<rect x="577.6" y="128.6" width="14.4" height="10.6" rx="5.3" stroke="#56688c" stroke-width="4.8"/>
<rect x="566" y="128.6" width="14.4" height="10.6" rx="5.3" stroke="#b4c8e4" stroke-width="2.8"/>
<rect x="577.6" y="128.6" width="14.4" height="10.6" rx="5.3" stroke="#b4c8e4" stroke-width="2.8"/>
<path d="M572.6 134 H586" stroke="#1e3c78" stroke-width="2.2" stroke-linecap="round"/>
</g>
</g>

<!-- ===== 13 colorbar ===== -->
<g>
<rect x="624.4" y="111.6" width="19.6" height="29.2" fill="#84909c"/>
<rect x="623.2" y="110.2" width="17.8" height="27.6" fill="url(#gCbar)" stroke="#34487f" stroke-width="2.1"/>
</g>

<!-- ===== 14 legend ===== -->
<g>
<rect x="664.4" y="111.6" width="29.6" height="29.2" fill="#84909c"/>
<rect x="663.1" y="110.2" width="27.8" height="27.6" fill="url(#gLeg)" stroke="#2f4480" stroke-width="2.1"/>
<rect x="666.2" y="115.1" width="9.8" height="7.8" fill="#e26666"/>
<rect x="666.2" y="127.3" width="9.8" height="7.6" fill="#6868e0"/>
<path d="M680 118H688M680 130H688" stroke="#222" stroke-width="2.4" stroke-linecap="round"/>
</g>

<!-- ===== 15 grey box ===== -->
<g>
<rect x="723.6" y="116.6" width="20.4" height="20.4" fill="#a2a2a2"/>
<rect x="722" y="115" width="19.6" height="19.6" fill="#949494"/>
<rect x="724" y="119.6" width="15.6" height="13" fill="#a9a9a9"/>
</g>

<!-- ===== 16 window ===== -->
<g>
<rect x="764" y="113" width="30" height="28" fill="#84909c"/>
<rect x="762.9" y="111.9" width="28.4" height="25.8" fill="#3a539c" stroke="#2b4184" stroke-width="1.8"/>
<rect x="763.8" y="112.6" width="26.6" height="3" fill="#4a6ab8"/>
<rect x="770.2" y="117" width="14" height="14" fill="#fff"/>
<rect x="764.6" y="117" width="3.4" height="13.4" fill="#ecece0"/>
<rect x="786.6" y="117" width="3.4" height="13.4" fill="#ecece0"/>
<path d="M768 118 q1 1.1 0 2.2 q-1 1.1 0 2.2 q1 1.1 0 2.2 q-1 1.1 0 2.2 q1 1.1 0 2.2" stroke="#3a539c" stroke-width="1" fill="none"/>
<path d="M786.6 118 q1 1.1 0 2.2 q-1 1.1 0 2.2 q1 1.1 0 2.2 q-1 1.1 0 2.2 q1 1.1 0 2.2" stroke="#3a539c" stroke-width="1" fill="none"/>
<rect x="764.6" y="132.8" width="25.4" height="3.6" fill="#e4e0c8"/>
<path d="M764.6 133.4 h25.4" stroke="#9a987c" stroke-width="1" stroke-dasharray="1.6 1.2"/>
</g>
</svg>

<div id="wm"><span style="font-size:17.5px">CSDN @</span>电气工程研习社</div>
</body>
</html>
